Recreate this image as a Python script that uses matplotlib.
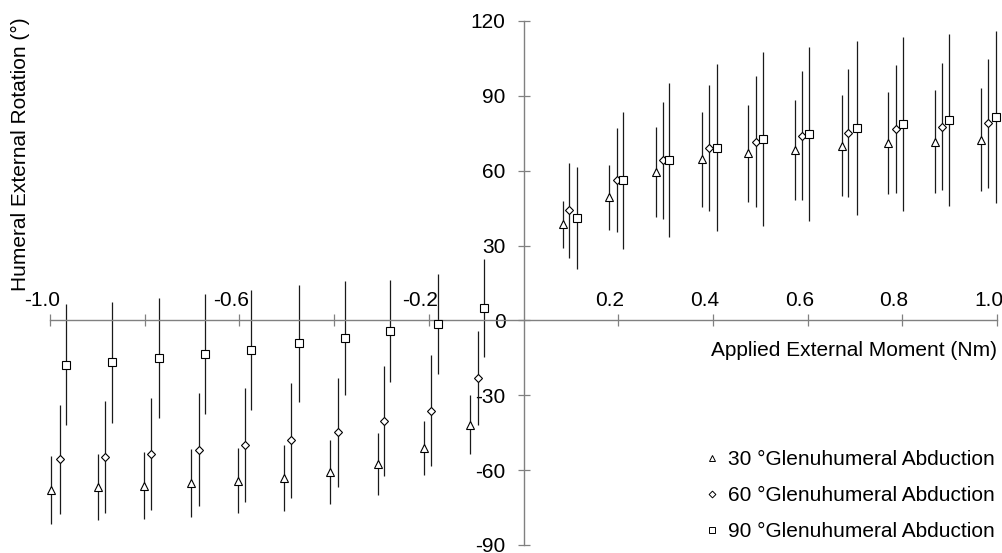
import matplotlib
matplotlib.use("Agg")
import matplotlib.pyplot as plt
from matplotlib.lines import Line2D

plt.rcParams['font.family'] = ['Liberation Sans', 'DejaVu Sans']

# ---- data ----
series_labels = ["30 \u00b0Glenuhumeral Abduction",
                 "60 \u00b0Glenuhumeral Abduction",
                 "90 \u00b0Glenuhumeral Abduction"]

x30 = [-0.998, -0.898, -0.801, -0.703, -0.603, -0.505, -0.408, -0.308, -0.210, -0.113,
       0.083, 0.180, 0.280, 0.377, 0.475, 0.574, 0.672, 0.770, 0.869, 0.966]
y30 = [-67.9, -66.9, -66.2, -65.1, -64.2, -63.0, -60.8, -57.6, -51.2, -41.8,
       38.6, 49.3, 59.5, 64.5, 66.9, 68.3, 70.1, 71.0, 71.7, 72.5]
e30 = [13.5, 13.2, 13.3, 13.5, 13.0, 13.2, 12.8, 12.5, 10.8, 11.8,
       9.4, 13.0, 18.1, 19.0, 19.6, 20.2, 20.3, 20.4, 20.6, 20.7]

x60 = [-0.979, -0.883, -0.786, -0.686, -0.589, -0.491, -0.391, -0.294, -0.196, -0.097,
       0.097, 0.197, 0.295, 0.392, 0.492, 0.589, 0.686, 0.786, 0.884, 0.981]
y60 = [-55.7, -54.7, -53.6, -51.8, -49.8, -48.1, -44.9, -40.4, -36.1, -23.1,
       44.2, 56.4, 64.2, 69.0, 71.7, 74.0, 75.1, 76.8, 77.7, 79.0]
e60 = [22.0, 22.4, 22.4, 22.6, 22.8, 22.9, 21.7, 22.0, 22.2, 18.7,
       19.0, 20.8, 23.4, 25.3, 26.1, 25.9, 25.7, 25.7, 25.6, 25.9]

x90 = [-0.967, -0.870, -0.770, -0.672, -0.575, -0.475, -0.378, -0.281, -0.181, -0.084,
       0.114, 0.211, 0.308, 0.408, 0.506, 0.604, 0.704, 0.801, 0.898, 0.998]
y90 = [-17.8, -16.8, -15.1, -13.5, -11.9, -9.2, -7.0, -4.2, -1.4, 4.9,
       41.0, 56.1, 64.3, 69.3, 72.6, 74.8, 77.1, 78.6, 80.3, 81.4]
e90 = [24.3, 24.3, 24.0, 24.0, 24.0, 23.4, 23.0, 20.5, 20.0, 19.6,
       20.3, 27.6, 30.9, 33.6, 34.9, 34.9, 35.0, 34.9, 34.3, 34.4]

xticks = [-1.0, -0.8, -0.6, -0.4, -0.2, 0.2, 0.4, 0.6, 0.8, 1.0]
xticklabels_shown = [-1.0, -0.6, -0.2, 0.2, 0.4, 0.6, 0.8, 1.0]
yticks = [-90, -60, -30, 0, 30, 60, 90, 120]

xlabel = "Applied External Moment (Nm)"
ylabel = "Humeral External Rotation (\u00b0)"

# ---- figure ----
W, H = 1002, 553
fig = plt.figure(figsize=(W / 100, H / 100), dpi=100)
ax = fig.add_axes([50 / W, 1 - 545 / H, 947 / W, 524 / H])
ax.set_xlim(-1.0, 1.0)
ax.set_ylim(-90, 120)

axis_gray = '#808080'
for s in ['top', 'right']:
    ax.spines[s].set_visible(False)
ax.spines['left'].set_position(('data', 0))
ax.spines['bottom'].set_position(('data', 0))
for s in ['left', 'bottom']:
    ax.spines[s].set_color(axis_gray)
    ax.spines[s].set_linewidth(1.0)

ax.set_xticks(xticks)
ax.set_xticklabels([''] * len(xticks))
ax.set_yticks(yticks)
ax.set_yticklabels([str(v) for v in yticks])
ax.tick_params(axis='both', direction='inout', length=9, width=0.9, color=axis_gray,
               labelsize=15, labelcolor='black')
ax.tick_params(axis='y', pad=8.5)

for v in xticklabels_shown:
    ax.annotate(f"{v:.1f}", xy=(v, 0), xycoords='data', xytext=(-6, 10.5),
                textcoords='offset points', ha='center', va='baseline', fontsize=15)

markers = ['^', 'D', 's']
msizes = [6.0, 3.9, 5.2]
data = [(x30, y30, e30), (x60, y60, e60), (x90, y90, e90)]
for (xs, ys, es), m, ms in zip(data, markers, msizes):
    ax.errorbar(xs, ys, yerr=es, fmt='none', ecolor='#1a1a1a', elinewidth=0.9,
                capsize=0, clip_on=False, zorder=2)
    ax.plot(xs, ys, linestyle='none', marker=m, markersize=ms, markerfacecolor='white',
            markeredgecolor='black', markeredgewidth=0.8, clip_on=False, zorder=3)

handles = [Line2D([], [], linestyle='none', marker=m, markersize=ms * 0.75,
                  markerfacecolor='white', markeredgecolor='black', markeredgewidth=0.7)
           for m, ms in zip(markers, [6.0, 4.6, 5.6])]
fig.legend(handles, series_labels, loc='lower right', bbox_to_anchor=(0.993, 0.021),
           frameon=False, fontsize=15, borderpad=0, handlelength=0.6,
           handletextpad=0.5, labelspacing=0.82, borderaxespad=0)

fig.text(997 / W, 1 - 350 / H, xlabel, ha='right', va='center', fontsize=15)
fig.text(20 / W, 1 - 154 / H, ylabel, ha='center', va='center', rotation=90, fontsize=15)

fig.savefig('out.png', dpi=100)
